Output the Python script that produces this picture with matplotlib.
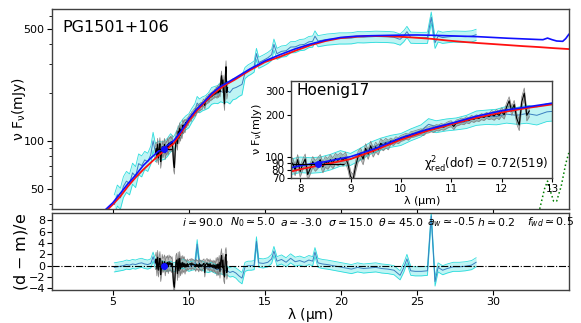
import numpy as np
import matplotlib
matplotlib.use('Agg')
import matplotlib.pyplot as plt
from matplotlib.ticker import FixedLocator, NullFormatter, LogLocator, NullLocator, FixedFormatter

plt.rcParams['mathtext.default'] = 'regular'

# ---------------- data ----------------
# torus model (blue) and alternative model (red)
blue_wave = [4.5, 5, 5.5, 6, 6.5, 7, 7.5, 8, 8.5, 9, 9.5, 10, 10.5, 11, 11.5, 12, 12.5, 13,
             14, 15, 16, 17, 18, 19, 20, 21, 22, 23, 24, 25, 26, 27, 28, 29, 30, 31, 32, 33,
             33.3, 33.6, 33.9, 34.2, 34.6, 34.8, 35]
blue_flux = [37, 41, 47, 54, 61, 70, 78, 86, 92, 100, 115, 137, 157, 175, 197, 216, 230, 245,
             280, 315, 345, 375, 402, 425, 442, 450, 453, 455, 457, 458, 456, 453, 450, 447, 442, 437, 433, 429,
             428, 438, 428, 420, 418, 435, 462]
red_wave = [4.5, 5, 5.5, 6, 6.5, 7, 7.5, 8, 8.5, 9, 9.5, 10, 10.5, 11, 11.5, 12, 12.5, 13,
            14, 15, 16, 17, 18, 19, 20, 21, 22, 23, 24, 25, 26, 27, 28, 29, 30, 31, 32, 33, 34, 35]
red_flux = [36, 40, 45, 52, 59, 66, 73, 81, 88, 96, 112, 133, 153, 172, 192, 210, 226, 240,
            275, 310, 335, 365, 395, 420, 438, 447, 452, 450, 446, 440, 433, 423, 415, 408, 402, 396, 390, 385, 379, 374]

# green dotted component
green_wave = [32.8, 33.1, 33.4, 33.6, 33.8, 34.0, 34.2, 34.5, 34.8, 35.0]
green_flux = [30, 38, 50, 56, 48, 42, 42, 52, 72, 84]

# Spitzer spectrum (cyan)
cyan_wave = [5.1, 5.3, 5.5, 5.7, 5.9, 6.1, 6.3, 6.5, 6.7, 6.9,
             7.1, 7.3, 7.5, 7.65, 7.8, 8.0, 8.2, 8.4, 8.6, 8.8,
             9.0, 9.2, 9.4, 9.6, 9.8, 10.0, 10.2, 10.4, 10.55, 10.7,
             10.9, 11.1, 11.3, 11.5, 11.7, 11.9, 12.1, 12.3, 12.5, 12.7,
             12.9, 13.1, 13.3, 13.5, 13.7, 13.9, 14.1, 14.3, 14.45, 14.6,
             14.9, 15.2, 15.45, 15.6, 15.8, 16.1, 16.4, 16.7, 17.0, 17.3,
             17.6, 17.9, 18.15, 18.3, 18.5, 18.8, 19.1, 19.5, 19.9, 20.3,
             20.7, 21.1, 21.5, 21.9, 22.3, 22.7, 23.1, 23.5, 23.9, 24.15,
             24.35, 24.6, 24.9, 25.3, 25.7, 25.95, 26.2, 26.4, 26.7, 27.0,
             27.4, 27.8, 28.2, 28.6, 28.9]
cyan_flux = [40, 46, 44, 52, 56, 54, 63, 60, 72, 70,
             76, 74, 82, 100, 85, 88, 87, 88, 92, 98,
             96, 105, 116, 124, 130, 134, 145, 155, 172, 166,
             171, 174, 180, 192, 195, 196, 204, 200, 206, 200,
             212, 215, 220, 225, 266, 276, 283, 292, 350, 308,
             318, 330, 345, 400, 350, 362, 365, 385, 386, 397,
             400, 415, 418, 450, 420, 425, 430, 433, 437, 437,
             438, 445, 444, 446, 448, 447, 446, 443, 430, 452,
             480, 442, 441, 440, 441, 590, 410, 450, 441, 445,
             449, 448, 447, 450, 460]
cyan_relerr = ([0.15] * 10 + [0.13] * 10 + [0.10] * 10 +
               [0.10, 0.10, 0.11, 0.12, 0.12, 0.13, 0.14, 0.14, 0.15, 0.15] +
               [0.15, 0.15, 0.14, 0.14, 0.08, 0.08, 0.08, 0.08, 0.08, 0.08] +
               [0.08] * 45)
cyan_resid = [-0.3, -0.2, -0.1, 0.0, 0.2, 0.1, 0.3, 0.2, 0.4, 0.5,
              0.3, 0.2, 0.4, 1.6, 0.3, 0.2, 0.1, -0.1, -0.2, 0.0,
              -0.3, -0.1, 0.2, 0.4, 0.1, -0.2, 0.0, 0.1, 3.8, 0.2,
              0.0, -0.3, -0.4, -0.2, -0.5, -0.7, -0.6, -0.9, -0.8, -1.2,
              -1.0, -1.3, -1.8, -2.2, -0.2, 0.0, 0.0, 0.1, 4.3, 0.5,
              0.4, 0.6, 1.2, 2.6, 0.8, 1.1, 0.6, 1.3, 0.7, 0.9,
              0.6, 1.0, 0.8, 2.4, 0.5, 0.3, 0.2, 0.0, -0.2, -0.4,
              -0.6, -0.3, -0.5, -0.4, -0.3, -0.5, -0.6, -0.8, -1.7, -0.3,
              1.2, -0.9, -1.0, -1.0, -0.9, 8.8, -2.8, -0.3, -0.8, -0.5,
              -0.2, -0.2, -0.1, 0.1, 0.6]
cyan_resid_err = [0.8] * 40 + [0.9, 0.9, 1.0, 1.0] + [0.8] * 51

# Hoenig17 ground-based spectrum (black), 7.80 - 12.55 um
black_range = (7.80, 12.55)
black_flux = [84, 90, 80, 95, 78, 88, 96, 74, 82, 92,
              86, 90, 95, 84, 92, 89, 95, 90, 97, 94,
              98, 94, 99, 88, 72, 68, 85, 100, 106, 96,
              115, 104, 120, 108, 118, 112, 125, 120, 126, 122,
              130, 127, 133, 131, 136, 138, 141, 139, 145, 146,
              148, 150, 152, 150, 156, 157, 160, 158, 163, 162,
              166, 164, 168, 172, 174, 166, 176, 178, 182, 180,
              186, 183, 190, 187, 192, 190, 196, 193, 200, 196,
              203, 198, 206, 200, 212, 202, 230, 255, 215, 240,
              190, 170, 250, 290, 200, 215]
black_relerr = [0.09] * 30 + [0.08] * 10 + [0.05] * 40 + [0.07] * 10 + [0.09] * 6
black_resid = [0.5, 1.2, -0.6, 1.5, -0.8, 0.4, 1.3, -1.6, -0.5, 0.8,
               0.0, 0.3, 0.7, -0.6, 0.5, 0.1, 0.6, -0.2, 0.7, 0.2,
               0.5, 0.0, 0.4, -1.2, -3.2, -3.8, -1.5, 0.6, 1.0, -1.4,
               1.2, -0.9, 1.3, -0.6, 0.5, -0.3, 0.6, 0.0, 0.4, -0.3,
               0.3, -0.2, 0.4, 0.0, 0.2, 0.3, 0.4, 0.0, 0.5, 0.2,
               0.3, 0.1, 0.2, -0.2, 0.3, 0.0, 0.2, -0.3, 0.4, -0.1,
               0.2, -0.2, 0.1, 0.3, 0.4, -1.2, 0.2, 0.3, 0.5, 0.0,
               0.3, -0.2, 0.4, -0.1, 0.1, -0.3, 0.2, -0.4, 0.1, -0.5,
               0.2, -0.6, 0.3, -0.5, 0.6, -1.0, 0.9, 1.8, -0.4, 1.0,
               -1.5, -2.0, 1.5, 2.0, -1.2, -0.4]
black_resid_err = [1.2] * 40 + [0.8] * 40 + [1.2] * 16

# photometric point
phot_wave, phot_flux, phot_xerr, phot_resid = 8.35, 89, 0.52, -0.1

TS = '\u2009\u2243\u2009'
param_labels = [r'$\mathit{i}$' + TS + '90.0', r'$\mathit{N_0}$' + TS + '5.0', r'$\mathit{a}$' + TS + '-3.0',
                r'$\mathit{\sigma}$' + TS + '15.0', r'$\mathit{\theta}$' + TS + '45.0', r'$\mathit{a_w}$' + TS + '-0.5',
                r'$\mathit{h}$' + TS + '0.2', r'$\mathit{f_{wd}}$' + TS + '0.5']
param_xpos = [0.2515, 0.344, 0.441, 0.534, 0.631, 0.725, 0.822, 0.919]

# ---------------- arrays ----------------
cw = np.array(cyan_wave); cf = np.array(cyan_flux); ce = np.array(cyan_relerr) * cf
cr = np.array(cyan_resid); cre = np.array(cyan_resid_err)
bf = np.array(black_flux)
bw = np.linspace(black_range[0], black_range[1], len(bf))
be = np.array(black_relerr) * bf
br = np.array(black_resid); bre = np.array(black_resid_err)

SP = '0.25'
CY = '#00d5d5'
SB = '#3a7fc0'

fig = plt.figure(figsize=(5.81, 3.23), dpi=100)
ax = fig.add_axes([0.0895, 0.353, 0.8895, 0.619])
axr = fig.add_axes([0.0895, 0.102, 0.8895, 0.2386])
axi = fig.add_axes([0.501, 0.449, 0.449, 0.300])


def spectra(a):
    a.fill_between(cw, cf - ce, cf + ce, color=CY, alpha=0.25, lw=0)
    a.plot(cw, cf - ce, color=CY, lw=0.6, alpha=0.8)
    a.plot(cw, cf + ce, color=CY, lw=0.6, alpha=0.8)
    a.plot(cw, cf, color=SB, lw=0.7)
    a.fill_between(bw, bf - be, bf + be, color='0.3', alpha=0.35, lw=0)
    a.plot(bw, bf - be, color='0.5', lw=0.5)
    a.plot(bw, bf + be, color='0.5', lw=0.5)
    a.plot(bw, bf, color='black', lw=0.8)
    a.plot(red_wave, red_flux, color='#ff1010', lw=1.3)
    a.plot(blue_wave, blue_flux, color='#1010ff', lw=1.2)
    a.errorbar(phot_wave, phot_flux, xerr=phot_xerr, fmt='o', color='#1010ff', ms=4,
               ecolor='black', elinewidth=0.8, zorder=5)


# main panel
spectra(ax)
ax.plot(green_wave, green_flux, color='green', ls=':', lw=1.1)
ax.set_yscale('log')
ax.set_xlim(1, 35)
ax.set_ylim(37.5, 665)
ax.yaxis.set_major_locator(FixedLocator([50, 100, 500]))
ax.yaxis.set_major_formatter(FixedFormatter(['50', '100', '500']))
ax.yaxis.set_minor_locator(LogLocator(base=10, subs=np.arange(2, 10)))
ax.yaxis.set_minor_formatter(NullFormatter())
ax.set_xticks([5, 10, 15, 20, 25, 30])
ax.tick_params(axis='x', labelbottom=False, direction='out', length=3)
ax.tick_params(axis='y', labelsize=8, length=3.5, pad=2)
ax.tick_params(axis='y', which='minor', length=2)
ax.set_ylabel(r'$\nu\ F_{\nu}$(mJy)', fontsize=10)
ax.text(0.021, 0.91, 'PG1501+106', transform=ax.transAxes, fontsize=11.5, va='center')

# inset
spectra(axi)
axi.set_yscale('log')
axi.set_xlim(7.82, 13)
axi.set_ylim(70, 355)
axi.yaxis.set_major_locator(FixedLocator([70, 80, 90, 100, 200, 300]))
axi.yaxis.set_major_formatter(FixedFormatter(['70', '80', '90', '100', '200', '300']))
axi.yaxis.set_minor_locator(NullLocator())
axi.set_xticks([8, 9, 10, 11, 12, 13])
axi.tick_params(labelsize=7.5, length=3, pad=1.5)
axi.set_xlabel(r'$\lambda$ ($\mu$m)', fontsize=8, labelpad=0)
axi.set_ylabel(r'$\nu\ F_{\nu}$(mJy)', fontsize=8, labelpad=1)
axi.text(0.02, 0.905, 'Hoenig17', transform=axi.transAxes, fontsize=11, va='center')
axi.text(0.985, 0.135, r'$\chi^2_{red}$(dof) = 0.72(519)', transform=axi.transAxes,
         fontsize=8.5, va='center', ha='right')

# residual panel
axr.fill_between(cw, cr - cre, cr + cre, color=CY, alpha=0.25, lw=0)
axr.plot(cw, cr - cre, color=CY, lw=0.6, alpha=0.8)
axr.plot(cw, cr + cre, color=CY, lw=0.6, alpha=0.8)
axr.plot(cw, cr, color=SB, lw=0.7)
axr.fill_between(bw, br - bre, br + bre, color='0.3', alpha=0.35, lw=0)
axr.plot(bw, br - bre, color='0.5', lw=0.5)
axr.plot(bw, br + bre, color='0.5', lw=0.5)
axr.plot(bw, br, color='black', lw=0.8)
axr.plot([phot_wave], [phot_resid], 'o', color='#1010ff', ms=4, zorder=5)
axr.axhline(0, color='black', ls='-.', lw=0.8)
axr.set_xlim(1, 35)
axr.set_ylim(-4.3, 9.3)
axr.set_yticks([-4, -2, 0, 2, 4, 6, 8])
axr.set_xticks([5, 10, 15, 20, 25, 30])
axr.tick_params(labelsize=8, length=3.5, pad=1.5)
axr.set_xlabel(r'$\lambda$ ($\mu$m)', fontsize=10, labelpad=-1)
axr.set_ylabel('(d $-$ m)/e', fontsize=11.5)
for lab, xp in zip(param_labels, param_xpos):
    axr.text(xp, 0.885, lab, transform=axr.transAxes, fontsize=7.8, va='center', ha='left')

for a in (ax, axr, axi):
    for s in a.spines.values():
        s.set_color(SP)
        s.set_linewidth(1.0)

ax.yaxis.set_label_coords(-0.046, 0.5)
axr.yaxis.set_label_coords(-0.043, 0.5)

fig.savefig('out.png', dpi=100)
